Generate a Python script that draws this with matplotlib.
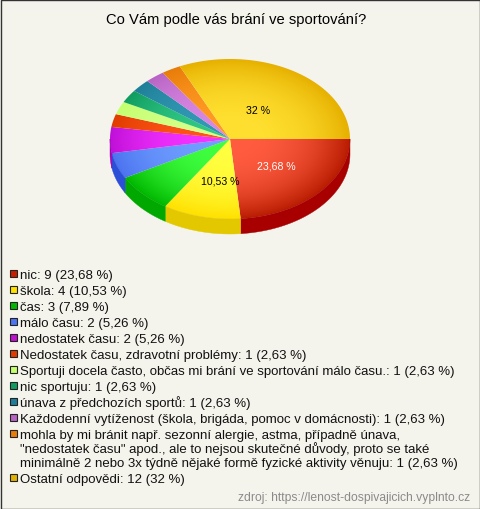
import numpy as np
import matplotlib
matplotlib.use('Agg')
import matplotlib.pyplot as plt
from matplotlib.patches import Polygon, Rectangle
from matplotlib.colors import to_rgb

plt.rcParams['font.family'] = ['Liberation Sans', 'DejaVu Sans']

title = 'Co Vám podle vás brání ve sportování?'
source = 'zdroj: https://lenost-dospivajicich.vyplnto.cz'

labels = ['nic', 'škola', 'čas', 'málo času', 'nedostatek času',
          'Nedostatek času, zdravotní problémy',
          'Sportuji docela často, občas mi brání ve sportování málo času.',
          'nic sportuju', 'únava z předchozích sportů',
          'Každodenní vytíženost (škola, brigáda, pomoc v domácnosti)',
          'mohla by mi bránit např. sezonní alergie, astma, případně únava,\n'
          '"nedostatek času" apod., ale to nejsou skutečné důvody, proto se také\n'
          'minimálně 2 nebo 3x týdně nějaké formě fyzické aktivity věnuju',
          'Ostatní odpovědi']
counts = [9, 4, 3, 2, 2, 1, 1, 1, 1, 1, 1, 12]
shares = [23.68, 10.53, 7.89, 5.26, 5.26, 2.63, 2.63, 2.63, 2.63, 2.63, 2.63, 32]
share_text = ['23,68', '10,53', '7,89', '5,26', '5,26', '2,63', '2,63', '2,63', '2,63', '2,63', '2,63', '32']

# barvy: stred vysece, okraj vysece, bocni stena, ctverecek legendy
inner = ['#ff5c40', '#ffff40', '#40ff40', '#6f9fff', '#f433ff', '#ff5518',
         '#d4ff88', '#30c884', '#3299b4', '#d888e4', '#ff9a24', '#ffe030']
outer = ['#b81c00', '#ffe000', '#00b800', '#4c74f0', '#c010d8', '#e03c00',
         '#c4ff70', '#109c60', '#207f98', '#b864c4', '#e87c08', '#e6b000']
walls = ['#a80000', '#e3c800', '#00a800', '#2c4fd8', '#a000b8']
swatch = ['#c81c00', '#ffe000', '#00b800', '#4c74f0', '#c010d0', '#e03c00',
          '#c4ff70', '#109c60', '#207f98', '#b864c4', '#e87c08', '#e2b000']

cx, cy, rx, ry, depth = 230, 140, 120, 80, 15
bg = '#f5f4ec'

fig = plt.figure(figsize=(4.8, 5.1), dpi=100, facecolor=bg)
ax = fig.add_axes([0, 0, 1, 1])
ax.axis('off')


def arc(a0, a1, dy=0):
    t = np.radians(np.linspace(a0, a1, 80))
    return np.column_stack([cx + rx * np.cos(t), cy + dy + ry * np.sin(t)])


# uhly vysecu z hodnot, po smeru hodinek od 3 hodin
edges = np.concatenate([[0], np.cumsum(shares)]) / np.sum(shares) * 360

# bocni stena
for i in range(len(shares)):
    a0, a1 = edges[i], min(edges[i + 1], 180)
    if a0 >= 180:
        break
    pts = np.vstack([arc(a0, a1), arc(a0, a1, depth)[::-1]])
    ax.add_patch(Polygon(pts, closed=True, fc=walls[i], ec=walls[i], lw=0.3))

# horni plocha s radialnim prechodem
xx, yy = np.meshgrid(np.linspace(-1.02, 1.02, 300), np.linspace(-1.02, 1.02, 240))
rr = np.clip(np.hypot(xx, yy), 0, 1)[..., None]
ext = (cx - rx * 1.02, cx + rx * 1.02, cy + ry * 1.02, cy - ry * 1.02)
for i in range(len(shares)):
    c0 = np.array(to_rgb(inner[i]))
    c1 = np.array(to_rgb(outer[i]))
    img = c0 + (c1 - c0) * rr ** 2.6
    im = ax.imshow(img, extent=ext, origin='upper', interpolation='bilinear', aspect='auto')
    pts = np.vstack([[cx, cy], arc(edges[i], edges[i + 1])])
    wedge = Polygon(pts, closed=True, fc='none', ec='none', transform=ax.transData)
    ax.add_patch(wedge)
    im.set_clip_path(wedge)

ax.set_xlim(0, 480)
ax.set_ylim(510, 0)

# popisky ve vysecich
ax.text(258.5, 111.5, share_text[11] + ' %', fontsize=7.7, ha='center', va='center', color='#000000')
ax.text(276.5, 166.5, share_text[0] + ' %', fontsize=7.6, ha='center', va='center', color='#ffffff')
ax.text(220, 181.5, share_text[1] + ' %', fontsize=7.6, ha='center', va='center', color='#000000')

ax.text(236, 20, title, fontsize=10.63, ha='center', va='center', color='#000000')

# legenda, kazdy radek zvlast kvuli stejne rozteci
y = 279
for i in range(len(labels)):
    ax.add_patch(Rectangle((9.5, y - 8.5), 7, 7, fc=swatch[i], ec='#222222', lw=0.8))
    txt = '%s: %d (%s %%)' % (labels[i], counts[i], share_text[i])
    lines = txt.split('\n')
    for k in range(len(lines)):
        ax.text(20, y + k * 14, lines[k], fontsize=9.55, ha='left', va='baseline', color='#111111')
    y += 16 + (len(lines) - 1) * 14

ax.text(470, 498, source, fontsize=8.74, ha='right', va='center', color='#8a8a8a')

ax.add_patch(Rectangle((0.5, 0.5), 479, 509, fc='none', ec='#333333', lw=1))

fig.savefig('out.png', dpi=100, facecolor=bg)
